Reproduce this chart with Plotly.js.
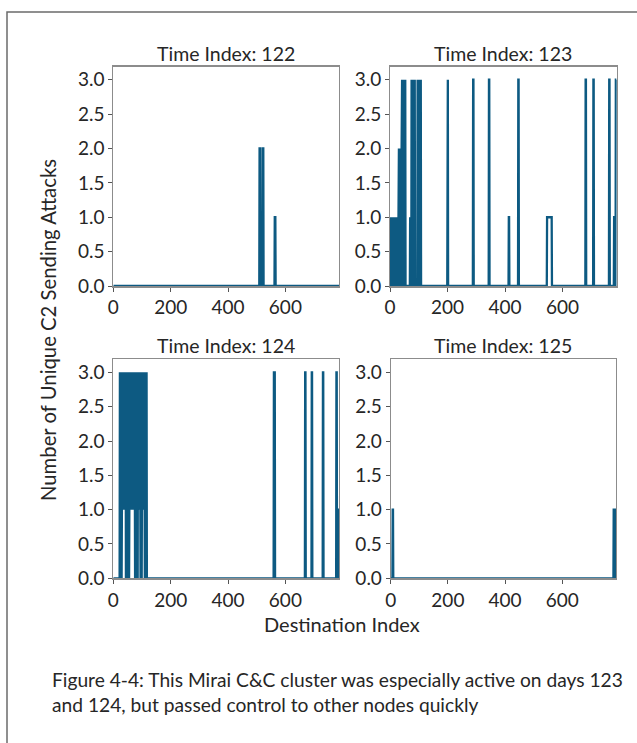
<!DOCTYPE html>
<html>
<head>
<meta charset="utf-8">
<script src="https://cdn.plot.ly/plotly-3.0.1.min.js"></script>
<style>
html,body{margin:0;padding:0;background:#fff;}
#chart{width:637px;height:743px;}
</style>
</head>
<body>
<div id="chart"></div>
<script>
// ---- data ----
const panelTitles = ['Time Index: 122', 'Time Index: 123', 'Time Index: 124', 'Time Index: 125'];
const xTicks = [0, 200, 400, 600];
const yTicks = [0, 0.5, 1.0, 1.5, 2.0, 2.5, 3.0];

// Time index 122
const x122 = [0, 509, 510, 512, 513, 520, 521, 523, 524, 562, 563, 565, 566, 787];
const y122 = [0, 0,   2,   2,   0,   0,   2,   2,   0,   0,   1,   1,   0,   0];

// Time index 123
const x123 = [0, 2, 4, 6, 8, 10, 12, 14, 16, 18, 20, 22, 24, 26, 28, 30,
              31, 33, 35, 37, 39, 41,
              42, 44, 46, 48, 50, 52, 53, 54,
              69, 70, 71,
              74, 75, 77, 79, 81, 83, 84, 85, 86, 87,
              95, 96, 98, 100, 102, 104, 106, 107, 108,
              199, 200, 201, 202,
              288, 289, 290, 291,
              343, 344, 345, 346,
              412, 413, 414, 415,
              445, 446, 447, 448,
              545, 546, 562, 563,
              679, 680, 681, 682,
              706, 707, 708, 709,
              761, 762, 763, 764,
              778, 779, 781, 782, 784, 785, 787];
const y123 = [0, 1, 0, 1, 0, 1, 1, 0, 1, 0, 1, 1, 0, 1, 0, 1,
              2, 0, 2, 0, 2, 2,
              3, 0, 3, 0, 3, 0, 3, 0,
              0, 1, 0,
              0, 3, 0, 3, 0, 3, 2, 0, 3, 0,
              0, 3, 0, 3, 0, 3, 0, 3, 0,
              0, 3, 3, 0,
              0, 3, 3, 0,
              0, 3, 3, 0,
              0, 1, 1, 0,
              0, 3, 3, 0,
              0, 1, 1, 0,
              0, 3, 3, 0,
              0, 3, 3, 0,
              0, 3, 3, 0,
              0, 1, 1, 0, 0, 3, 3];

// Time index 124
const x124 = [0, 22,
              23, 25, 27, 29, 31, 33, 35, 37, 39, 41, 43,
              44, 46, 48, 49, 51, 53, 55, 56,
              58, 60, 62, 64, 66, 68, 70, 72, 74,
              76, 78, 79, 81, 83, 85, 86,
              87, 89, 91, 93,
              95, 97, 99, 101,
              102, 104, 106, 108, 109,
              110, 114, 115, 116, 117,
              559, 560, 563, 564,
              668, 669, 670, 671,
              691, 692, 693, 694,
              730, 731, 732, 733,
              777, 778, 779, 780, 785, 786, 787];
const y124 = [0, 0,
              3, 0, 3, 0, 2, 1, 3, 1, 3, 1, 3,
              0, 3, 0, 2, 0, 3, 0, 3,
              3, 1, 3, 1, 3, 1, 2, 1, 3,
              0, 3, 2, 0, 3, 0, 3,
              1, 3, 1, 3,
              0, 3, 0, 3,
              1, 3, 1, 3, 1,
              0, 0, 3, 3, 0,
              0, 3, 3, 0,
              0, 3, 3, 0,
              0, 3, 3, 0,
              0, 3, 3, 0,
              0, 3, 3, 0, 0, 1, 1];

// Time index 125
const x125 = [0, 6, 7, 8, 9, 779, 780, 784, 785, 787];
const y125 = [0, 0, 1, 1, 0, 0,   1,   1,   0,   0];

// ---- styling ----
const FONT = 'Lato, "Noto Sans", sans-serif';
const LINE = '#0d5a82';
const TXT = '#262626';
const W = 637, H = 743;
const px = v => v / W;
const py = v => 1 - v / H;

const xDom = [[113.3, 339.3], [390, 616.7], [113.3, 339.3], [390.7, 616]];
const yDom = [[66.7, 286], [66.7, 286], [359.3, 578.3], [359.3, 578.3]];

const series = [[x122, y122], [x123, y123], [x124, y124], [x125, y125]];
const traces = series.map((s, i) => ({
  type: 'scatter', mode: 'lines', x: s[0], y: s[1],
  xaxis: i === 0 ? 'x' : 'x' + (i + 1),
  yaxis: i === 0 ? 'y' : 'y' + (i + 1),
  line: {color: LINE, width: 2.3},
  hoverinfo: 'skip', showlegend: false
}));

const layout = {
  width: W, height: H,
  margin: {l: 0, r: 0, t: 0, b: 0},
  paper_bgcolor: '#fff', plot_bgcolor: '#fff',
  font: {family: FONT, color: TXT, size: 19},
  showlegend: false,
  annotations: [],
  shapes: [{
    type: 'rect', xref: 'paper', yref: 'paper',
    x0: px(7), x1: 1.05, y0: -0.05, y1: py(12),
    line: {color: '#6b6b6b', width: 1.5}, fillcolor: 'rgba(0,0,0,0)', layer: 'below'
  }]
};

for (let i = 0; i < 4; i++) {
  const sx = i === 0 ? '' : String(i + 1);
  layout['xaxis' + sx] = {
    domain: [px(xDom[i][0]), px(xDom[i][1])],
    anchor: 'y' + sx,
    range: [0, 788],
    tickvals: xTicks, ticktext: xTicks.map(String),
    ticks: 'outside', ticklen: 4, tickwidth: 1, tickcolor: '#555',
    showline: true, mirror: true, linecolor: '#8c8c8c', linewidth: 1.6,
    layer: 'above traces',
    showgrid: false, zeroline: false, fixedrange: true,
    tickfont: {family: FONT, size: 19, color: TXT}
  };
  layout['yaxis' + sx] = {
    domain: [py(yDom[i][1]), py(yDom[i][0])],
    anchor: 'x' + sx,
    range: [0, 3.19],
    tickvals: yTicks, ticktext: yTicks.map(v => v.toFixed(1)),
    ticks: 'outside', ticklen: 4, tickwidth: 1, tickcolor: '#555',
    showline: true, mirror: true, linecolor: '#8c8c8c', linewidth: 1,
    layer: 'above traces',
    showgrid: false, zeroline: false, fixedrange: true,
    tickfont: {family: FONT, size: 19, color: TXT}
  };
  layout.annotations.push({
    xref: 'paper', yref: 'paper',
    x: px((xDom[i][0] + xDom[i][1]) / 2), y: py(yDom[i][0]),
    xanchor: 'center', yanchor: 'bottom', showarrow: false,
    text: panelTitles[i], font: {family: FONT, size: 19.5, color: TXT}
  });
}

layout.annotations.push({
  xref: 'paper', yref: 'paper', x: px(48), y: py(330),
  xanchor: 'center', yanchor: 'middle', showarrow: false, textangle: -90,
  text: 'Number of Unique C2 Sending Attacks', font: {family: FONT, size: 20.3, color: TXT}
});
layout.annotations.push({
  xref: 'paper', yref: 'paper', x: px(342), y: py(624),
  xanchor: 'center', yanchor: 'middle', showarrow: false,
  text: 'Destination Index', font: {family: FONT, size: 20, color: TXT}
});
layout.annotations.push({
  xref: 'paper', yref: 'paper', x: px(50), y: py(679),
  xanchor: 'left', yanchor: 'middle', showarrow: false,
  text: 'Figure 4-4: This Mirai C&amp;C cluster was especially active on days 123',
  font: {family: FONT, size: 19.2, color: TXT}
});
layout.annotations.push({
  xref: 'paper', yref: 'paper', x: px(50), y: py(704),
  xanchor: 'left', yanchor: 'middle', showarrow: false,
  text: 'and 124, but passed control to other nodes quickly',
  font: {family: FONT, size: 19.2, color: TXT}
});

Plotly.newPlot('chart', traces, layout, {staticPlot: true, displayModeBar: false});
</script>
</body>
</html>
